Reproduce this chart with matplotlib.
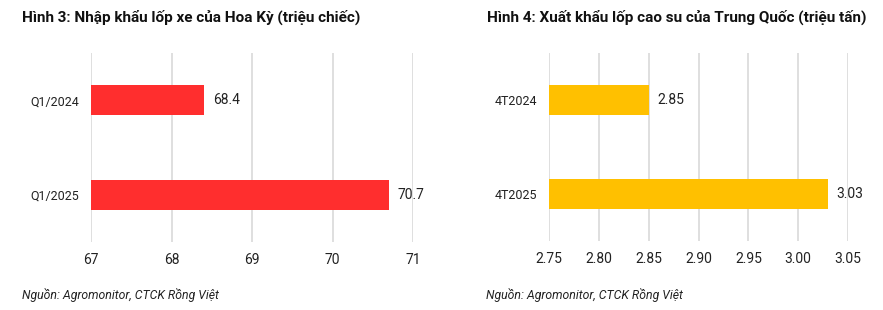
import matplotlib.pyplot as plt

plt.rcParams['font.family'] = ['Roboto', 'DejaVu Sans']

# Hình 3: US tyre imports (million units)
us_periods = ["Q1/2024", "Q1/2025"]
us_values = [68.4, 70.7]
us_ticks = [67, 68, 69, 70, 71]

# Hình 4: China rubber tyre exports (million tonnes)
cn_periods = ["4T2024", "4T2025"]
cn_values = [2.85, 3.03]
cn_ticks = [2.75, 2.80, 2.85, 2.90, 2.95, 3.00, 3.05]

W, H = 883, 310
fig = plt.figure(figsize=(W / 100, H / 100), dpi=100)


def fx(px):
    return px / W


def fy(px):
    return 1 - px / H


def draw(ax, cats, vals, ticks, color, fmt, tickfmt):
    pos = list(range(len(cats)))
    ax.barh(pos, [v - ticks[0] for v in vals], left=ticks[0], height=0.32,
            color=color, zorder=3)
    ax.set_xlim(ticks[0], ticks[-1])
    ax.set_ylim(1.5, -0.5)
    ax.set_yticks(pos)
    ax.set_yticklabels(cats, fontsize=9, color='#222222')
    ax.set_xticks(ticks)
    ax.set_xticklabels([tickfmt.format(t) for t in ticks], fontsize=10,
                       color='#222222')
    ax.tick_params(length=0, axis='x', pad=8)
    ax.tick_params(length=0, axis='y', pad=8.5)
    ax.grid(axis='x', color='#d9d9d9', linewidth=1.2, zorder=0)
    for s in ax.spines.values():
        s.set_visible(False)
    span = ticks[-1] - ticks[0]
    for p, v in zip(pos, vals):
        ax.text(v + span * 0.028, p, fmt.format(v), va='center', ha='left',
                fontsize=10, color='#222222')


ax1 = fig.add_axes([fx(91), fy(242), fx(413 - 91), (242 - 53) / H])
draw(ax1, us_periods, us_values, us_ticks, '#ff2e2e', '{:.1f}', '{:.0f}')

ax2 = fig.add_axes([fx(549), fy(241), fx(848 - 549), (241 - 53) / H])
draw(ax2, cn_periods, cn_values, cn_ticks, '#ffc000', '{:.2f}', '{:.2f}')

fig.text(fx(22), fy(17), "Hình 3: Nhập khẩu lốp xe của Hoa Kỳ (triệu chiếc)",
         fontsize=11, fontweight='bold', va='center', ha='left', color='#111111')
fig.text(fx(487), fy(17), "Hình 4: Xuất khẩu lốp cao su của Trung Quốc (triệu tấn)",
         fontsize=11, fontweight='bold', va='center', ha='left', color='#111111')
fig.text(fx(22), fy(295), "Nguồn: Agromonitor, CTCK Rồng Việt",
         fontsize=8.8, style='italic', va='center', ha='left', color='#222222')
fig.text(fx(486), fy(295), "Nguồn: Agromonitor, CTCK Rồng Việt",
         fontsize=8.8, style='italic', va='center', ha='left', color='#222222')

fig.savefig("out.png", dpi=100)
